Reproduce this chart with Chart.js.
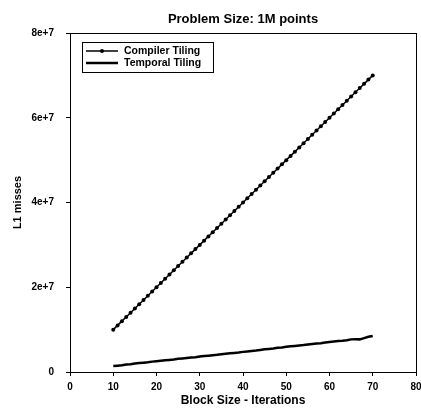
<!DOCTYPE html>
<html>
<head>
<meta charset="utf-8">
<script src="https://cdn.jsdelivr.net/npm/chart.js@4"></script>
<style>
  html, body { margin: 0; padding: 0; background: #fff; }
  #wrap { width: 421px; height: 408px; }
</style>
</head>
<body>
<div id="wrap"><canvas id="missChart" width="421" height="408"></canvas></div>
<script>
// Данные графика
const blockSizes = [10, 11, 12, 13, 14, 15, 16, 17, 18, 19, 20, 21, 22, 23, 24, 25, 26, 27, 28, 29,
  30, 31, 32, 33, 34, 35, 36, 37, 38, 39, 40, 41, 42, 43, 44, 45, 46, 47, 48, 49,
  50, 51, 52, 53, 54, 55, 56, 57, 58, 59, 60, 61, 62, 63, 64, 65, 66, 67, 68, 69, 70];

const compilerMisses = [10e6, 11e6, 12e6, 13e6, 14e6, 15e6, 16e6, 17e6, 18e6, 19e6, 20e6, 21e6, 22e6, 23e6, 24e6,
  25e6, 26e6, 27e6, 28e6, 29e6, 30e6, 31e6, 32e6, 33e6, 34e6, 35e6, 36e6, 37e6, 38e6, 39e6,
  40e6, 41e6, 42e6, 43e6, 44e6, 45e6, 46e6, 47e6, 48e6, 49e6, 50e6, 51e6, 52e6, 53e6, 54e6,
  55e6, 56e6, 57e6, 58e6, 59e6, 60e6, 61e6, 62e6, 63e6, 64e6, 65e6, 66e6, 67e6, 68e6, 69e6, 70e6];

const temporalMisses = [1.40e6, 1.50e6, 1.60e6, 1.75e6, 1.85e6, 2.00e6, 2.10e6, 2.20e6, 2.30e6, 2.45e6,
  2.55e6, 2.65e6, 2.75e6, 2.85e6, 2.95e6, 3.10e6, 3.20e6, 3.30e6, 3.40e6, 3.50e6,
  3.65e6, 3.75e6, 3.85e6, 3.95e6, 4.05e6, 4.20e6, 4.30e6, 4.40e6, 4.50e6, 4.60e6,
  4.75e6, 4.85e6, 4.95e6, 5.05e6, 5.20e6, 5.35e6, 5.45e6, 5.55e6, 5.70e6, 5.80e6,
  5.95e6, 6.05e6, 6.15e6, 6.25e6, 6.35e6, 6.50e6, 6.60e6, 6.70e6, 6.80e6, 6.95e6,
  7.10e6, 7.20e6, 7.30e6, 7.35e6, 7.50e6, 7.70e6, 7.75e6, 7.70e6, 8.00e6, 8.30e6, 8.50e6];

const xTicks = [0, 10, 20, 30, 40, 50, 60, 70, 80];
const yTicks = [0, 2e7, 4e7, 6e7, 8e7];

const chartTitle = 'Problem Size: 1M points';
const FONT = 'Liberation Sans, Arial, sans-serif';

// Рамка и заголовок над областью графика
const framePlugin = {
  id: 'frame',
  afterDraw(chart) {
    const a = chart.chartArea;
    const ctx = chart.ctx;
    ctx.save();
    ctx.strokeStyle = '#000';
    ctx.lineWidth = 1;
    ctx.strokeRect(a.left + 0.5, a.top + 0.5, a.right - a.left, a.bottom - a.top);
    ctx.fillStyle = '#000';
    ctx.font = 'bold 13px ' + FONT;
    ctx.textAlign = 'center';
    ctx.textBaseline = 'middle';
    ctx.fillText(chartTitle, (a.left + a.right) / 2, 19);
    ctx.restore();
  }
};

// Легенда внутри области графика
const innerLegend = {
  id: 'innerLegend',
  afterDraw(chart) {
    const a = chart.chartArea;
    const ctx = chart.ctx;
    const x = a.left + 12, y = a.top + 9, w = 131, h = 30;
    ctx.save();
    ctx.fillStyle = '#fff';
    ctx.fillRect(x, y, w, h);
    ctx.strokeStyle = '#000';
    ctx.lineWidth = 1;
    ctx.strokeRect(x + 0.5, y + 0.5, w, h);
    ctx.font = 'bold 10.5px ' + FONT;
    ctx.textBaseline = 'middle';
    chart.data.datasets.forEach((ds, i) => {
      const ly = y + 9 + i * 12;
      ctx.strokeStyle = '#000';
      ctx.lineWidth = ds.borderWidth;
      ctx.beginPath();
      ctx.moveTo(x + 4, ly);
      ctx.lineTo(x + 36, ly);
      ctx.stroke();
      if (ds.pointRadius > 0) {
        ctx.fillStyle = '#000';
        ctx.beginPath();
        ctx.arc(x + 20, ly, 2, 0, Math.PI * 2);
        ctx.fill();
      }
      ctx.fillStyle = '#000';
      ctx.fillText(ds.label, x + 42, ly);
    });
    ctx.restore();
  }
};

document.addEventListener('DOMContentLoaded', function() {
  const ctx = document.getElementById('missChart').getContext('2d');
  new Chart(ctx, {
    type: 'line',
    data: {
      datasets: [{
        label: 'Compiler Tiling',
        data: blockSizes.map((b, i) => ({ x: b, y: compilerMisses[i] })),
        borderColor: '#000',
        backgroundColor: '#000',
        borderWidth: 1.5,
        pointRadius: 2,
        pointBorderWidth: 0,
        tension: 0
      }, {
        label: 'Temporal Tiling',
        data: blockSizes.map((b, i) => ({ x: b, y: temporalMisses[i] })),
        borderColor: '#000',
        borderWidth: 2.5,
        pointRadius: 0,
        tension: 0
      }]
    },
    options: {
      responsive: false,
      animation: false,
      layout: { padding: { top: 33, right: 5, left: 0, bottom: 0 } },
      plugins: {
        legend: { display: false },
        tooltip: { enabled: false },
        title: { display: false }
      },
      scales: {
        x: {
          type: 'linear',
          min: 0,
          max: 80,
          afterBuildTicks: s => { s.ticks = xTicks.map(v => ({ value: v })); },
          afterFit: s => { s.height = 36; s.paddingRight = 0; s.paddingLeft = 0; },
          ticks: {
            color: '#000',
            font: { family: FONT, size: 10, weight: 'bold' },
            padding: 5,
            maxRotation: 0
          },
          grid: { drawOnChartArea: false, drawTicks: true, tickLength: 4, color: '#000' },
          border: { color: '#000' },
          title: {
            display: true,
            text: 'Block Size - Iterations',
            color: '#000',
            font: { family: FONT, size: 12, weight: 'bold' },
            padding: { top: 1, bottom: 0 }
          }
        },
        y: {
          min: 0,
          max: 8e7,
          afterBuildTicks: s => { s.ticks = yTicks.map(v => ({ value: v })); },
          afterFit: s => { s.width = 70; },
          ticks: {
            color: '#000',
            font: { family: FONT, size: 10, weight: 'bold' },
            padding: 12,
            callback: v => v === 0 ? '0' : v.toExponential()
          },
          grid: { drawOnChartArea: false, drawTicks: true, tickLength: 4, color: '#000' },
          border: { color: '#000' },
          title: {
            display: true,
            text: 'L1 misses',
            color: '#000',
            font: { family: FONT, size: 11, weight: 'bold' },
            padding: { top: 11, bottom: 0 }
          }
        }
      }
    },
    plugins: [framePlugin, innerLegend]
  });
});
</script>
</body>
</html>
